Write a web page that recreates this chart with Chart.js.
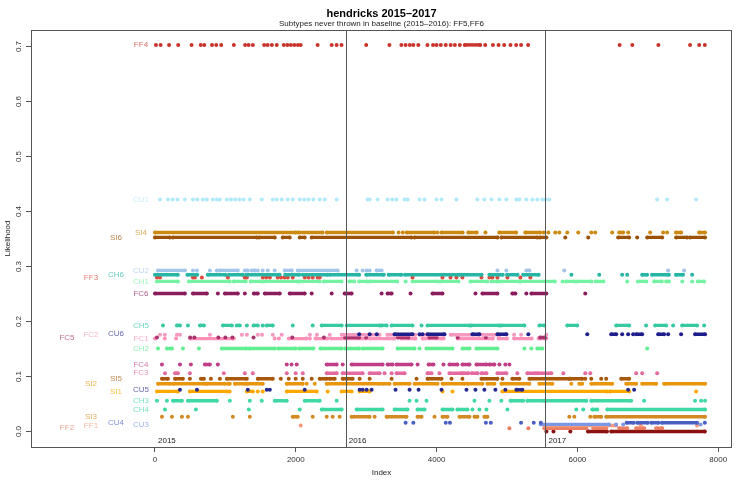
<!DOCTYPE html>
<html><head><meta charset="utf-8">
<script src="https://cdn.jsdelivr.net/npm/chart.js@4/dist/chart.umd.min.js"></script>
<style>html,body{margin:0;padding:0;background:#fff}canvas{display:block}</style>
</head><body>
<canvas id="c" width="747" height="486"></canvas>
<script>
// ---- data: subtype names, likelihood (y) values, thrown-at indices (single index or [start,end] dense run)
const subtypes = ['FF4','CU1','SI4','SI6','CU2','CH6','FF3','CH1','FC6','CH5','CU6','FC2','FC5','FC1','CH2','FC4','FC3','SI5','SI2','CU5','SI1','CH3','CH4','SI3','CU4','CU3','FF1','FF2','FF5'];
const likelihoods = [0.703,0.422,0.362,0.353,0.293,0.285,0.280,0.273,0.251,0.193,0.177,0.176,0.171,0.169,0.151,0.122,0.106,0.096,0.087,0.076,0.073,0.056,0.040,0.027,0.016,0.013,0.011,0.006,0.000];
const yearNames = ['2015','2016','2017'];
const yearStarts = [0,2709,5546];
const xTicks = [0,2000,4000,6000,8000];
const yTicks = [0,0.1,0.2,0.3,0.4,0.5,0.6,0.7];

const FF4 = [14,80,200,330,520,650,700,810,870,940,1120,1280,1330,1390,1550,1600,1660,1730,1830,1880,1930,1980,2030,2070,2310,2510,2580,2650,3000,3330,3500,3560,3620,3670,3740,3870,3950,4000,4060,4130,4200,4260,4330,[4400,4620],4690,4800,4880,4960,5050,5130,5200,5300,6600,6780,7150,7600,7730,7810];
const CU1 = [71,184,250,320,425,539,600,680,737,822,880,922,1021,1080,1140,1200,1260,1347,1517,1673,1730,1800,1886,1957,2056,2120,2180,2250,2340,2411,2581,3020,3049,3162,3304,3370,3430,3545,3588,3758,3829,3999,4070,4282,4580,4679,4780,4892,4991,5133,5176,5275,5360,5430,5502,5550,5600,7133,7274,7686];
const SI4 = [[0,2000],[2030,2380],[2440,3380],3460,3520,[3575,3970],4013,[4070,4370],[4450,4570],4694,[4890,5130],[5260,5470],5520,5587,5686,5743,5856,6012,6197,6253,6494,[6594,6650],6721,7033,7218,7274,[7400,7473],[7728,7813]];
const SI6 = [[0,213],[255,1446],[1480,1702],[1815,1914],[2056,2127],[2226,3644],[3687,4864],[4920,5431],[5470,5559],5828,6154,[6579,6735],6849,[6991,7204],[7402,7558],[7600,7813]];
const CU2 = [[43,425],539,596,780,879,[922,1177],[1276,1319],[1375,1418],1460,1530,1602,1700,[1843,1943],[2028,2595],2864,2950,3006,3049,[3148,3219],4864,4991,[5275,5318],5814,7289,7516];
const CH6 = [[0,325],[460,600],[750,1000],[1050,1250],[1300,1770],[1850,2050],[2100,2450],[2480,2900],[3000,3250],[3320,3500],[3550,4330],[4360,4640],[4750,4940],[5000,5150],[5230,5450],5915,6310,6636,6707,[6920,6990],[7060,7300],[7400,7500],7630];
const FF3 = [28,71,539,567,666,1035,1276,1305,1531,1580,1631,1744,1790,1840,1886,1957,2127,2180,2240,2311,2340,3658,4084,4197,4282,4367,4637,4750,4793,4864,5006,5190,5332];
const CH1 = [[28,326],[482,1063],[1120,1290],[1360,1500],[1545,2030],[2056,2340],[2400,2650],[2760,2830],[2900,3010],[3050,3440],3560,[3660,4010],[4050,4310],[4480,4720],[4780,4860],[4880,5180],[5190,5680],5790,[5840,5960],[6000,6200],[6260,6370],6707,[6860,6980],[7090,7200],[7260,7300],7490,7630,[7710,7800]];
const FC6 = [[0,425],[539,737],893,[993,1177],1276,[1404,1460],[1560,1773],[1914,2127],2226,2510,[2694,2793],3219,[3304,3361],3630,[3942,4084],4552,[4651,4864],[5076,5119],5275,[5346,5559],6112];
const CH5 = [113,[312,355],468,[638,695],[964,1092],[1163,1205],1305,[1400,1460],1531,[1588,1673],1957,2240,[2368,2652],[2723,3190],[3220,3290],[3361,3658],3786,[3871,4467],[4495,4892],[4920,5247],[5460,5530],[5856,5998],[6551,6735],6976,[7104,7260],7360,[7487,7700],7800];
const CU6 = [2900,3050,3150,[3403,3658],3758,3800,[3871,4112],[4509,4608],[4864,4991],5303,6140,[6480,6551],6636,6721,6792,[6835,6920],[7147,7232],7289,7473,[7671,7813]];
const FC2 = [71,140,312,355,780,1234,1305,1460,1520,1673,1800,2200,2300,2482,[2652,3190],[3300,3700],[3760,4100],[4200,4600],[4650,4900],5100,5200,5560];
const FC5 = [28,500,560,900,1000,1100,1400,1950,2400,[2700,2900],3000,[3450,3600],[3900,4000],4300,4700,[5470,5540]];
const FC1 = [0,140,300,[500,1100],1120,1700,1760,[1900,2150],2200,[2280,2450],[2500,3000],[3050,3400],[3500,3700],[3800,4100],[4300,4800],[4880,5000],[5100,5350],[5450,5560]];
const CH2 = [43,[170,241],397,624,[950,1300],[1340,1700],[1750,2000],[2050,2250],[2350,2650],[2700,2900],[2950,3233],[3446,3687],3758,[3857,4226],[4367,4467],[4566,4864],5247,5346,[5431,5502],6991];
const FC4 = [99,355,510,[709,780],893,1872,1940,2013,[2439,2581],2666,[2793,3233],[3304,3375],[3432,3644],3730,[3886,3956],4098,[4183,4296],[4367,4467],[4566,4708],[4750,4821],4892,4977,5034];
const FC3 = [142,[284,326],496,978,1276,1390,1872,1999,2099,[2439,2581],[2666,2949],[3049,3190],3261,3361,[3432,3545],[3871,3928],4041,[4183,4353],[4380,4450],[4500,4580],[4637,4708],[4864,4991],5147,[5289,5400],[5431,5630],5800,6112,6183,6835,6920,7133];
const SI5 = [[99,184],[284,397],496,[652,695],794,922,[1021,1305],[1460,1673],1787,1900,1999,2099,2226,[2340,2439],[2480,2553],[2666,2808],2907,3049,3361,3715,[3871,4070],4212,4367,[4637,4864],4935,[5076,5176],[5318,5885],[5900,6069],6112,6197,6338,6409,[6622,6735]];
const SI2 = [[43,213],[255,709],[737,993],[1035,1063],[1134,1276],[1305,1531],[1872,2099],2155,2269,[2439,3190],[3230,3332],[3403,3616],[3687,4013],[4084,4396],[4438,4651],[4722,4821],[4920,5318],[5459,5644],5913,[6027,6069],[6197,6494],[6693,6835],[6920,7119],[7232,7813]];
const CU5 = [355,596,1319,1588,1631,2127,2907,2949,3006,3077,3417,3616,3744,4070,4424,4552,4679,4835,4977,[5133,5218],6721,6806];
const SI1 = [[28,326],[496,1021],1060,[1305,1390],1460,1531,[1872,2297],2453,[2652,2793],[2907,3049],4084,4226,[4935,6420],[6460,6735],7686];
const CH3 = [28,170,[255,383],[468,879],1063,1347,1517,[1702,1872],[2127,2340],2581,3616,3715,3857,4538,4750,4920,[5050,5230],[5289,5530],[5545,6126],[6197,6764],6948,7671,7757,7813];
const CH4 = [142,581,1333,2056,[2368,2652],[2864,3233],[3403,3587],[3729,3829],[4084,4226],[4296,4438],4509,4608,4708,5006,5984,6083,[6211,6282],[6424,7813]];
const SI3 = [99,241,383,468,1106,1347,[1957,2028],2240,2439,2524,2623,[2793,3049],3120,[3290,3573],[3729,3786],3970,[4084,4155],[4325,4467],[4538,4580],[4679,4722],5885,5956,6183,[6239,6338],[6409,7813]];
const CU4 = [3560,3670,4130,4190,4700,4770,5200,5380,5480,[6700,6800],[6850,7000],[7050,7150],[7200,7700],7810];
const CU3 = [[5480,6450],6550,6650,7750];
const FF1 = [2070,[5530,6550],6900,7700];
const FF2 = [5034,5303,[5530,6126],[6226,6409],[6594,6707],[6835,6948],[7119,7204]];
const FF5 = [5560,5660,5900,[6150,6420],[6480,7810]];
const thrownAt = [FF4,CU1,SI4,SI6,CU2,CH6,FF3,CH1,FC6,CH5,CU6,FC2,FC5,FC1,CH2,FC4,FC3,SI5,SI2,CU5,SI1,CH3,CH4,SI3,CU4,CU3,FF1,FF2,FF5];

// ---- styles (not data)
const colors = ['#c8342b','#b0eafa','#cd8a12','#9a5208','#a2c4ea','#27b6a6','#e0483e','#74f3a2','#8b1c5e','#36c9a2','#1e1e8c','#f49ac1','#a8336e','#ff90b8','#60ef90','#c03e86','#e46aa0','#a8580c','#e8960e','#28298f','#ffa800','#40d8a4','#3ed9a2','#d48a22','#4a5fc4','#7b97e8','#f59a7c','#ea7d62','#8b1010'];
const labelColumn = [0,0,0,1,0,1,2,0,0,0,1,2,3,0,0,0,0,1,2,0,1,0,0,2,1,0,2,3,-1];
const labelColumnX = [-199,-554,-909,-1250];

function toPoints(list, y){
  const out = [];
  for (const r of list){
    if (Array.isArray(r)) { out.push({x:r[0],y:y},{x:r[1],y:y}); out.push({x:r[1],y:null}); }
    else { out.push({x:r,y:y}); out.push({x:r,y:null}); }
  }
  return out;
}

const datasets = subtypes.map((s,i)=>({
  label: s,
  data: toPoints(thrownAt[i], likelihoods[i]),
  borderColor: colors[i],
  backgroundColor: colors[i],
  pointBackgroundColor: colors[i],
  pointBorderWidth: 0,
  pointRadius: 2,
  borderWidth: 3.4,
  spanGaps: false,
  tension: 0
}));

const FONT = '"Liberation Sans", Arial, Helvetica, sans-serif';

const decor = {
  id:'decor',
  beforeDatasetsDraw(chart){
    const {ctx, scales:{x,y}} = chart;
    ctx.save();
    ctx.font = '8px '+FONT;
    ctx.textAlign='center'; ctx.textBaseline='middle';
    subtypes.forEach((s,i)=>{
      if (labelColumn[i] < 0) return;
      ctx.globalAlpha = 0.72;
      ctx.fillStyle = colors[i];
      ctx.fillText(s, x.getPixelForValue(labelColumnX[labelColumn[i]]), y.getPixelForValue(likelihoods[i]));
    });
    ctx.restore();
  },
  afterDatasetsDraw(chart){
    const {ctx, chartArea:a, scales:{x,y}} = chart;
    ctx.save();
    ctx.strokeStyle='#555'; ctx.lineWidth=1;
    yearStarts.forEach((v,i)=>{
      if (i===0) return;
      const px = Math.round(x.getPixelForValue(v))+0.5;
      ctx.beginPath(); ctx.moveTo(px,a.top); ctx.lineTo(px,a.bottom); ctx.stroke();
    });
    ctx.fillStyle='#222'; ctx.font='8px '+FONT; ctx.textAlign='left'; ctx.textBaseline='middle';
    yearNames.forEach((n,i)=>{
      ctx.fillText(n, x.getPixelForValue(yearStarts[i])+3, a.bottom-6);
    });
    ctx.strokeStyle='#555';
    ctx.strokeRect(a.left+0.5, a.top+0.5, a.right-a.left-1, a.bottom-a.top);
    ctx.fillStyle='#333'; ctx.font='8px '+FONT; ctx.textAlign='center'; ctx.textBaseline='middle';
    yTicks.forEach(v=>{
      ctx.save();
      ctx.translate(19, y.getPixelForValue(v));
      ctx.rotate(-Math.PI/2);
      ctx.fillText(v.toFixed(1),0,0);
      ctx.restore();
    });
    ctx.save(); ctx.translate(8, (a.top+a.bottom)/2); ctx.rotate(-Math.PI/2);
    ctx.fillStyle='#222'; ctx.font='8px '+FONT; ctx.fillText('Likelihood',0,0); ctx.restore();
    ctx.fillStyle='#222'; ctx.font='8px '+FONT;
    ctx.fillText('Index', (a.left+a.right)/2, 473);
    ctx.fillStyle='#000'; ctx.font='bold 11px '+FONT;
    ctx.fillText('hendricks 2015\u20132017', (a.left+a.right)/2, 14);
    ctx.font='8px '+FONT; ctx.fillStyle='#222';
    ctx.fillText('Subtypes never thrown in baseline (2015\u20132016): FF5,FF6', (a.left+a.right)/2, 24);
    ctx.restore();
  }
};

new Chart(document.getElementById('c'), {
  type:'line',
  data:{datasets},
  options:{
    responsive:false, animation:false, devicePixelRatio:1,
    layout:{padding:{left:0,top:30,right:15,bottom:0}},
    plugins:{legend:{display:false}, tooltip:{enabled:false}, title:{display:false}},
    scales:{
      x:{type:'linear', min:-1761, max:8196,
        afterBuildTicks:s=>{s.ticks = xTicks.map(v=>({value:v}));},
        afterFit:s=>{s.height=39;},
        border:{display:false},
        grid:{drawOnChartArea:false, drawTicks:true, tickLength:5, color:'#555'},
        ticks:{font:{size:8, family:FONT}, color:'#333', padding:3, maxRotation:0, autoSkip:false,
          callback:v=>String(v)}
      },
      y:{type:'linear', min:-0.0281, max:0.7301,
        afterBuildTicks:s=>{s.ticks = yTicks.map(v=>({value:v}));},
        afterFit:s=>{s.width=31;},
        border:{display:false},
        grid:{drawOnChartArea:false, drawTicks:true, tickLength:5, color:'#555'},
        ticks:{display:false}
      }
    }
  },
  plugins:[decor]
});
</script>
</body></html>
